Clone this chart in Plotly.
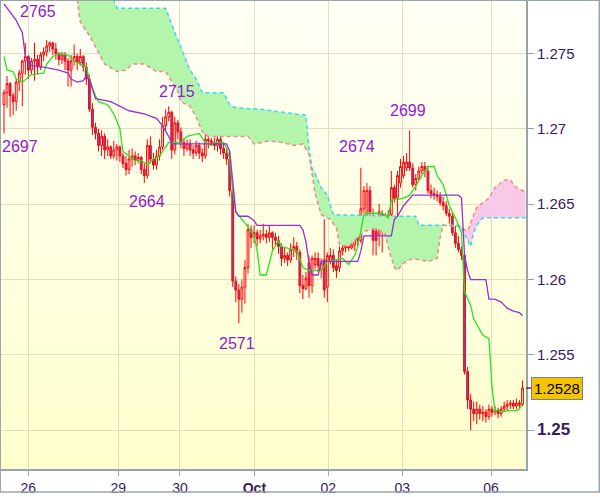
import plotly.graph_objects as go

# ---------------- data ----------------
hours = list(range(171))

open_ = [1.2716,1.2724,1.2730,1.2722,1.2718,1.2731,1.2737,1.2745,1.2748,1.2739,
1.2745,1.2746,1.2741,1.2749,1.2751,1.2755,1.2757,1.2753,1.2750,1.2746,
1.2749,1.2745,1.2739,1.2745,1.2748,1.2744,1.2748,1.2741,1.2733,1.2713,
1.2701,1.2697,1.2689,1.2695,1.2686,1.2688,1.2682,1.2686,1.2688,1.2682,
1.2677,1.2673,1.2680,1.2682,1.2679,1.2681,1.2673,1.2669,1.2689,1.2680,
1.2676,1.2682,1.2688,1.2702,1.2708,1.2711,1.2686,1.2704,1.2698,1.2691,
1.2687,1.2690,1.2686,1.2684,1.2689,1.2684,1.2682,1.2693,1.2692,1.2691,
1.2689,1.2693,1.2687,1.2684,1.2680,1.2659,1.2599,1.2593,1.2587,1.2595,
1.2608,1.2633,1.2628,1.2631,1.2627,1.2629,1.2630,1.2628,1.2631,1.2628,
1.2626,1.2622,1.2614,1.2616,1.2613,1.2620,1.2622,1.2618,1.2596,1.2594,
1.2611,1.2596,1.2610,1.2614,1.2606,1.2613,1.2595,1.2612,1.2616,1.2609,
1.2608,1.2619,1.2621,1.2622,1.2621,1.2623,1.2628,1.2626,1.2647,1.2641,
1.2659,1.2641,1.2632,1.2630,1.2643,1.2634,1.2639,1.2643,1.2661,1.2654,
1.2664,1.2669,1.2674,1.2678,1.2674,1.2663,1.2667,1.2672,1.2675,1.2672,
1.2659,1.2657,1.2656,1.2655,1.2651,1.2649,1.2644,1.2642,1.2631,1.2624,
1.2620,1.2616,1.2539,1.2520,1.2514,1.2511,1.2514,1.2511,1.2512,1.2509,
1.2514,1.2512,1.2513,1.2511,1.2514,1.2516,1.2517,1.2518,1.2516,1.2518,
1.2517]

high = [1.2726,1.2735,1.2731,1.2724,1.2733,1.2739,1.2746,1.2757,1.2749,1.2747,
1.2757,1.2749,1.2751,1.2754,1.2759,1.2758,1.2758,1.2757,1.2751,1.2751,
1.2751,1.2747,1.2749,1.2756,1.2750,1.2753,1.2749,1.2744,1.2736,1.2717,
1.2704,1.2700,1.2699,1.2697,1.2693,1.2689,1.2692,1.2690,1.2689,1.2684,
1.2682,1.2686,1.2687,1.2685,1.2684,1.2682,1.2677,1.2693,1.2695,1.2684,
1.2686,1.2693,1.2708,1.2713,1.2715,1.2712,1.2708,1.2706,1.2701,1.2694,
1.2693,1.2693,1.2689,1.2692,1.2691,1.2687,1.2698,1.2702,1.2694,1.2694,
1.2702,1.2695,1.2690,1.2687,1.2685,1.2661,1.2602,1.2597,1.2600,1.2613,
1.2637,1.2636,1.2636,1.2633,1.2633,1.2637,1.2633,1.2636,1.2632,1.2631,
1.2629,1.2624,1.2621,1.2618,1.2624,1.2628,1.2625,1.2620,1.2603,1.2605,
1.2616,1.2616,1.2618,1.2618,1.2614,1.2640,1.2618,1.2621,1.2620,1.2613,
1.2622,1.2625,1.2627,1.2626,1.2628,1.2633,1.2631,1.2674,1.2662,1.2664,
1.2662,1.2647,1.2636,1.2650,1.2646,1.2644,1.2646,1.2672,1.2663,1.2672,
1.2680,1.2682,1.2684,1.2699,1.2677,1.2670,1.2675,1.2678,1.2678,1.2675,
1.2663,1.2661,1.2659,1.2658,1.2655,1.2652,1.2647,1.2645,1.2636,1.2629,
1.2622,1.2618,1.2542,1.2524,1.2519,1.2519,1.2517,1.2516,1.2514,1.2517,
1.2516,1.2516,1.2515,1.2516,1.2519,1.2520,1.2520,1.2520,1.2521,1.2520,
1.2533]

low = [1.2697,1.2714,1.2708,1.2709,1.2712,1.2725,1.2715,1.2736,1.2733,1.2736,
1.2732,1.2736,1.2739,1.2745,1.2748,1.2751,1.2749,1.2746,1.2742,1.2743,
1.2739,1.2728,1.2728,1.2742,1.2739,1.2742,1.2738,1.2729,1.2711,1.2696,
1.2693,1.2685,1.2682,1.2680,1.2682,1.2680,1.2680,1.2679,1.2678,1.2674,
1.2669,1.2670,1.2675,1.2676,1.2677,1.2670,1.2664,1.2667,1.2677,1.2673,
1.2673,1.2679,1.2686,1.2699,1.2705,1.2680,1.2683,1.2693,1.2687,1.2682,
1.2685,1.2682,1.2680,1.2682,1.2680,1.2678,1.2680,1.2687,1.2689,1.2686,
1.2685,1.2683,1.2680,1.2676,1.2655,1.2595,1.2585,1.2571,1.2578,1.2584,
1.2604,1.2621,1.2624,1.2622,1.2624,1.2626,1.2624,1.2625,1.2620,1.2622,
1.2617,1.2609,1.2611,1.2609,1.2611,1.2615,1.2613,1.2591,1.2587,1.2593,
1.2588,1.2591,1.2607,1.2605,1.2601,1.2588,1.2585,1.2610,1.2605,1.2601,
1.2605,1.2616,1.2618,1.2619,1.2620,1.2619,1.2622,1.2624,1.2644,1.2632,
1.2642,1.2616,1.2616,1.2622,1.2618,1.2630,1.2633,1.2624,1.2651,1.2634,
1.2661,1.2667,1.2672,1.2672,1.2661,1.2659,1.2666,1.2670,1.2668,1.2657,
1.2654,1.2653,1.2652,1.2649,1.2646,1.2642,1.2637,1.2629,1.2621,1.2618,
1.2613,1.2537,1.2514,1.2500,1.2506,1.2504,1.2507,1.2506,1.2505,1.2507,
1.2509,1.2510,1.2508,1.2509,1.2512,1.2513,1.2514,1.2514,1.2514,1.2514,
1.2516]

close = [1.2724,1.2730,1.2722,1.2718,1.2731,1.2737,1.2745,1.2748,1.2739,1.2745,
1.2746,1.2741,1.2749,1.2751,1.2755,1.2757,1.2753,1.2750,1.2746,1.2749,
1.2745,1.2739,1.2745,1.2748,1.2744,1.2748,1.2741,1.2733,1.2713,1.2701,
1.2697,1.2689,1.2695,1.2686,1.2688,1.2682,1.2686,1.2688,1.2682,1.2677,
1.2673,1.2680,1.2682,1.2679,1.2681,1.2673,1.2669,1.2689,1.2680,1.2676,
1.2682,1.2688,1.2702,1.2708,1.2711,1.2686,1.2704,1.2698,1.2691,1.2687,
1.2690,1.2686,1.2684,1.2689,1.2684,1.2682,1.2693,1.2692,1.2691,1.2689,
1.2693,1.2687,1.2684,1.2680,1.2659,1.2599,1.2593,1.2587,1.2595,1.2608,
1.2633,1.2628,1.2631,1.2627,1.2629,1.2630,1.2628,1.2631,1.2628,1.2626,
1.2622,1.2614,1.2616,1.2613,1.2620,1.2622,1.2618,1.2596,1.2594,1.2601,
1.2596,1.2614,1.2614,1.2609,1.2611,1.2593,1.2616,1.2616,1.2608,1.2606,
1.2619,1.2621,1.2622,1.2621,1.2623,1.2628,1.2626,1.2647,1.2659,1.2659,
1.2645,1.2626,1.2626,1.2645,1.2632,1.2641,1.2643,1.2661,1.2654,1.2669,
1.2675,1.2678,1.2678,1.2674,1.2663,1.2667,1.2672,1.2675,1.2672,1.2659,
1.2657,1.2656,1.2655,1.2651,1.2649,1.2644,1.2642,1.2631,1.2624,1.2620,
1.2616,1.2539,1.2520,1.2514,1.2511,1.2514,1.2511,1.2512,1.2509,1.2514,
1.2512,1.2513,1.2511,1.2514,1.2516,1.2517,1.2518,1.2516,1.2518,1.2517,
1.2528]

kijun_idx = [0,4,6,7,9,13,18,21,22,24,26,27,28,30,35,38,41,46,50,52,
             54,55,73,74,75,76,77,80,82,83,97,98,99,100,101,103,104,116,117,118,
             127,128,129,131,134,149,150,151,152,153,158,159,161,163,165,167,169,170]
kijun_val = [1.2783,1.2772,1.2764,1.2748,1.2742,1.2741,1.2739,1.2737,1.2733,1.2731,
             1.2732,1.2735,1.2733,1.2720,1.2718,1.2715,1.2712,1.2710,1.2707,1.2702,
             1.2695,1.2690,1.2690,1.2685,1.2663,1.2645,1.2642,1.2642,1.2639,1.2636,
             1.2636,1.2633,1.2625,1.2611,1.2603,1.2603,1.2612,1.2612,1.2619,1.2629,
             1.2629,1.2640,1.2642,1.2649,1.2656,1.2656,1.2654,1.2616,1.2606,1.2600,
             1.2600,1.2587,1.2587,1.2585,1.2581,1.2579,1.2578,1.2576]

tenkan_idx = [0,1,3,4,6,9,13,14,16,18,21,23,25,27,28,30,31,34,36,38,
              39,41,43,45,47,49,51,52,54,58,60,64,66,68,69,72,73,74,75,76,
              80,82,83,84,86,88,90,91,94,96,98,100,104,106,111,113,115,116,118,119,
              124,126,127,129,131,133,135,137,139,141,142,144,145,146,148,150,151,153,154,157,
              159,160,161,162,163,165,168,169,170]
tenkan_val = [1.2748,1.2739,1.2738,1.2733,1.2731,1.2736,1.2737,1.2743,1.2748,1.2750,
              1.2749,1.2745,1.2743,1.2741,1.2733,1.2722,1.2718,1.2716,1.2710,1.2700,
              1.2685,1.2682,1.2679,1.2679,1.2676,1.2680,1.2682,1.2685,1.2691,1.2691,
              1.2695,1.2697,1.2691,1.2689,1.2691,1.2691,1.2687,1.2680,1.2659,1.2645,
              1.2635,1.2629,1.2619,1.2603,1.2603,1.2619,1.2626,1.2622,1.2620,1.2619,
              1.2608,1.2606,1.2606,1.2612,1.2614,1.2610,1.2616,1.2622,1.2643,1.2644,
              1.2644,1.2641,1.2653,1.2653,1.2654,1.2656,1.2662,1.2669,1.2675,1.2675,
              1.2669,1.2663,1.2656,1.2649,1.2641,1.2631,1.2592,1.2583,1.2574,1.2563,
              1.2561,1.2529,1.2512,1.2514,1.2512,1.2513,1.2513,1.2514,1.2518]

span_a_idx = [24,36,37,53,56,59,61,63,65,72,74,76,84,95,99,100,101,102,104,106,
              108,130,135,136,143,149,150,152,153,154,155,157,160,171]
span_a_val = [1.2800,1.2786,1.2780,1.2780,1.2764,1.2749,1.2739,1.2733,1.2724,1.2724,
              1.2716,1.2714,1.2713,1.2710,1.2709,1.2687,1.2674,1.2670,1.2661,1.2656,
              1.2643,1.2642,1.2642,1.2636,1.2636,1.2636,1.2634,1.2626,1.2622,1.2631,
              1.2636,1.2641,1.2641,1.2641]

span_b_idx = [24,25,28,33,37,40,42,46,50,53,57,58,61,63,65,67,74,80,82,87,
              91,95,98,100,101,102,104,107,109,110,113,115,118,122,125,126,128,129,131,134,
              139,142,143,144,149,150,151,152,154,155,159,161,164,166,168,171]
span_b_val = [1.2786,1.2771,1.2762,1.2743,1.2738,1.2739,1.2743,1.2743,1.2738,1.2738,
              1.2725,1.2718,1.2715,1.2708,1.2698,1.2695,1.2695,1.2695,1.2690,1.2692,
              1.2691,1.2689,1.2690,1.2683,1.2670,1.2657,1.2643,1.2640,1.2634,1.2623,
              1.2622,1.2626,1.2632,1.2634,1.2630,1.2621,1.2608,1.2606,1.2611,1.2614,
              1.2612,1.2614,1.2628,1.2636,1.2635,1.2635,1.2633,1.2632,1.2643,1.2648,
              1.2654,1.2661,1.2666,1.2666,1.2661,1.2658]
cloud_cross = 150

label_text = ["2765", "2697", "2715", "2664", "2571", "2674", "2699"]
label_idx = [11, 0, 54, 46, 77, 117, 133]
label_price = [1.2765, 1.2697, 1.2715, 1.2664, 1.2571, 1.2674, 1.2699]

day_pos = [7.97, 37.5, 57.7, 82.1, 106.3, 130.6, 159.7]
day_text = ["26", "29", "30", "<b>Oct</b>", "02", "03", "06"]

price_ticks = [1.25, 1.255, 1.26, 1.265, 1.27, 1.275]
price_text = ["<span style='font-size:17px'><b>1.25</b></span>", "1.255", "1.26", "1.265", "1.27", "1.275"]

last_price = close[-1]

# ---------------- styles / layout ----------------
FONT = "Liberation Sans, Arial, sans-serif"
TXT = "#3a1a5e"
LABEL = "#9418d0"
GREEN_FILL = "#b3f6ab"
PINK_FILL = "#fac8e8"
CYAN = "#3ad8ee"
SALMON = "#f08a8a"

label_offsets = [(0, 19), (16, -13.5), (8, 15), (3, -18), (-2, -20), (-4, 21.5), (-2, 19.5)]

def part(idx, val, lo, hi):
    sel = [(i, v) for i, v in zip(idx, val) if lo <= i <= hi]
    return [s[0] for s in sel], [s[1] for s in sel]

fig = go.Figure()

# cloud: green part (span A above span B)
bx, by = part(span_b_idx, span_b_val, 0, cloud_cross)
ax_, ay = part(span_a_idx, span_a_val, 0, cloud_cross)
fig.add_trace(go.Scatter(x=bx, y=by, mode="lines", line=dict(width=0), hoverinfo="skip"))
fig.add_trace(go.Scatter(x=ax_, y=ay, mode="lines", line=dict(width=0), fill="tonexty",
                         fillcolor=GREEN_FILL, hoverinfo="skip"))
# cloud: pink part (span B above span A)
ax2, ay2 = part(span_a_idx, span_a_val, cloud_cross, 999)
bx2, by2 = part(span_b_idx, span_b_val, cloud_cross, 999)
fig.add_trace(go.Scatter(x=ax2, y=ay2, mode="lines", line=dict(width=0), hoverinfo="skip"))
fig.add_trace(go.Scatter(x=bx2, y=by2, mode="lines", line=dict(width=0), fill="tonexty",
                         fillcolor=PINK_FILL, hoverinfo="skip"))
# cloud edges
fig.add_trace(go.Scatter(x=span_a_idx, y=span_a_val, mode="lines",
                         line=dict(color=CYAN, width=1.5, dash="4px,3px")))
fig.add_trace(go.Scatter(x=span_b_idx, y=span_b_val, mode="lines",
                         line=dict(color=SALMON, width=1.5, dash="4px,3px")))

# candles
fig.add_trace(go.Candlestick(
    x=hours, open=open_, high=high, low=low, close=close,
    increasing=dict(line=dict(color="#ff0000", width=1), fillcolor="rgba(0,0,0,0)"),
    decreasing=dict(line=dict(color="#ff0000", width=1), fillcolor="#6a4fcf"),
    whiskerwidth=0,
))

# tenkan / kijun
fig.add_trace(go.Scatter(x=tenkan_idx, y=tenkan_val, mode="lines",
                         line=dict(color="#22e622", width=1.3)))
fig.add_trace(go.Scatter(x=kijun_idx, y=kijun_val, mode="lines",
                         line=dict(color="#9a30d0", width=1.3)))

# background gradient bands
shapes = []
n = 30
for k in range(n):
    t = k / (n - 1)
    g = 255
    b = int(246 - (246 - 206) * t)
    shapes.append(dict(type="rect", xref="x domain", yref="y domain",
                       x0=0, x1=1, y0=1 - (k + 1) / n, y1=1 - k / n,
                       fillcolor=f"rgb(255,{g},{b})", line=dict(width=0), layer="below"))
# outer frame
shapes.append(dict(type="rect", xref="paper", yref="paper",
                   x0=-0.0015, x1=(599.3 - 1) / 525, y0=-(496.3 - 473) / 472, y1=1 + 0.8 / 472,
                   line=dict(color="#98a4ac", width=1.5), fillcolor="rgba(0,0,0,0)", layer="above"))
# last price tick
shapes.append(dict(type="line", xref="paper", yref="y", x0=1, x1=1 + 6 / 525,
                   y0=last_price, y1=last_price, line=dict(color="#602a6a", width=1.5)))

annotations = []
for txt, i, p, (dx, dy) in zip(label_text, label_idx, label_price, label_offsets):
    annotations.append(dict(x=i, y=p, xref="x", yref="y", text=txt, showarrow=False,
                            xanchor="center", yanchor="middle", xshift=dx, yshift=dy,
                            font=dict(family=FONT, size=16, color=LABEL)))
annotations.append(dict(x=1, y=last_price, xref="paper", yref="y", text=f"{last_price:.4f}",
                        showarrow=False, xanchor="left", yanchor="middle", xshift=5,
                        bgcolor="#f5c300", bordercolor="#7a8288", borderwidth=1, borderpad=2,
                        font=dict(family=FONT, size=15, color="#000000")))

fig.update_layout(
    width=600, height=497,
    margin=dict(l=1, r=74, t=1, b=24),
    paper_bgcolor="#ffffff",
    plot_bgcolor="#fffff0",
    showlegend=False,
    boxgap=0.15,
    shapes=shapes,
    annotations=annotations,
    font=dict(family=FONT, size=14, color=TXT),
    xaxis=dict(
        type="linear", range=[-0.984, 171.15], rangeslider=dict(visible=False),
        tickmode="array", tickvals=day_pos, ticktext=day_text,
        showgrid=True, gridcolor="#e2dfbf", gridwidth=1,
        showline=True, linecolor="#98a4ac", linewidth=2,
        ticks="outside", ticklen=5, tickcolor="#98a4ac",
        tickfont=dict(family=FONT, size=14, color=TXT), zeroline=False,
    ),
    yaxis=dict(
        side="right", range=[1.247427, 1.278484],
        tickmode="array", tickvals=price_ticks, ticktext=price_text,
        showgrid=True, gridcolor="#e2dfbf", gridwidth=1,
        showline=True, linecolor="#98a4ac", linewidth=2,
        ticks="outside", ticklen=6, tickcolor="#98a4ac",
        tickfont=dict(family=FONT, size=15, color=TXT), zeroline=False,
    ),
)

fig.write_html("out.html", config={"displayModeBar": False},
               post_script="document.body.style.margin='0';document.body.style.overflow='hidden';")
